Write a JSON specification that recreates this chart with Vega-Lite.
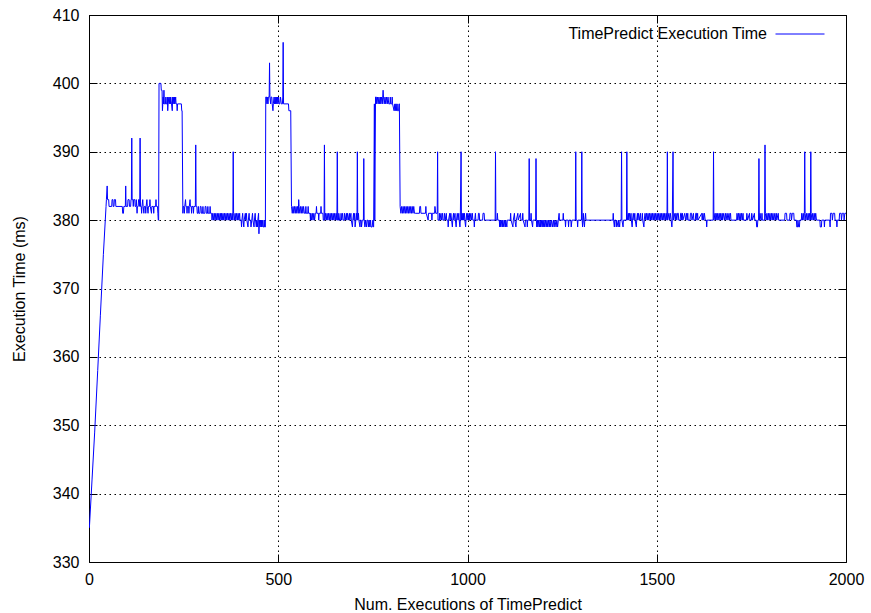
{
  "$schema": "https://vega.github.io/schema/vega-lite/v6.json",
  "width": 757,
  "height": 547,
  "autosize": {"type": "none"},
  "padding": {"left": 89, "top": 15, "right": 25, "bottom": 51},
  "background": "white",
  "config": {
    "font": "Liberation Sans",
    "view": {"stroke": "#000", "strokeWidth": 1},
    "axis": {
      "domain": false,
      "tickColor": "#000",
      "tickSize": -8,
      "labelColor": "#000",
      "labelFontSize": 16,
      "labelFont": "Liberation Sans",
      "titleFont": "Liberation Sans",
      "titleFontSize": 16,
      "titleFontWeight": "normal",
      "titleColor": "#000",
      "gridColor": "#000",
      "gridDash": [1.5, 3.5],
      "gridOpacity": 1,
      "gridWidth": 1,
      "labelFlush": false
    }
  },
  "data": {"values": [
{"x":1,"y":335},{"x":8,"y":342},{"x":15,"y":349},{"x":23,"y":358},{"x":30,"y":366},{"x":38,"y":375},{"x":45,"y":382},{"x":46,"y":383},{"x":48,"y":385},{"x":49,"y":383},{"x":52,"y":383},{"x":53,"y":382},{"x":60,"y":382},{"x":61,"y":383},{"x":63,"y":383},{"x":64,"y":382},{"x":66,"y":382},{"x":67,"y":383},{"x":70,"y":383},{"x":71,"y":382},
{"x":88,"y":382},{"x":89,"y":381},{"x":91,"y":381},{"x":92,"y":382},{"x":96,"y":382},{"x":97,"y":385},{"x":98,"y":382},{"x":102,"y":382},{"x":103,"y":383},{"x":106,"y":383},{"x":107,"y":382},{"x":110,"y":382},{"x":111,"y":383},{"x":112,"y":383},{"x":113,"y":392},{"x":114,"y":383},{"x":116,"y":383},{"x":117,"y":382},{"x":118,"y":383},{"x":121,"y":383},{"x":122,"y":382},{"x":124,"y":382},{"x":125,"y":383},{"x":126,"y":382},{"x":127,"y":381},{"x":128,"y":382},{"x":130,"y":382},{"x":131,"y":383},{"x":133,"y":383},{"x":134,"y":382},{"x":135,"y":392},{"x":136,"y":382},{"x":138,"y":382},{"x":139,"y":381},{"x":140,"y":382},{"x":142,"y":383},{"x":143,"y":382},{"x":145,"y":381},{"x":146,"y":382},{"x":149,"y":382},{"x":150,"y":381},{"x":151,"y":382},{"x":153,"y":383},{"x":154,"y":382},{"x":156,"y":381},{"x":157,"y":382},{"x":160,"y":382},{"x":161,"y":383},{"x":162,"y":382},{"x":165,"y":381},{"x":166,"y":382},{"x":170,"y":382},{"x":171,"y":381},{"x":172,"y":382},{"x":176,"y":382},{"x":177,"y":383},{"x":178,"y":382},{"x":181,"y":382},{"x":182,"y":381},{"x":183,"y":380},{"x":184,"y":380},{"x":185,"y":400},
{"x":190,"y":400},{"x":191,"y":399},{"x":193,"y":399},{"x":194,"y":396},{"x":195,"y":397},{"x":196,"y":398},{"x":197,"y":397},{"x":198,"y":399},{"x":199,"y":397},{"x":202,"y":397},{"x":203,"y":398},{"x":204,"y":397},{"x":206,"y":397},{"x":207,"y":398},{"x":208,"y":396},{"x":209,"y":397},{"x":211,"y":398},{"x":212,"y":397},{"x":214,"y":398},{"x":215,"y":397},{"x":216,"y":398},{"x":218,"y":397},{"x":220,"y":396},{"x":221,"y":398},{"x":222,"y":397},{"x":224,"y":398},{"x":225,"y":397},{"x":226,"y":398},{"x":227,"y":397},{"x":229,"y":398},{"x":230,"y":397},{"x":232,"y":397},{"x":233,"y":396},{"x":234,"y":397},{"x":244,"y":397},{"x":245,"y":396},{"x":246,"y":396},{"x":248,"y":381},{"x":249,"y":382},
{"x":251,"y":382},{"x":252,"y":381},{"x":253,"y":382},{"x":255,"y":383},{"x":256,"y":382},{"x":258,"y":382},{"x":259,"y":381},{"x":260,"y":382},{"x":263,"y":382},{"x":264,"y":381},{"x":265,"y":382},{"x":267,"y":383},{"x":268,"y":382},{"x":270,"y":382},{"x":271,"y":381},{"x":272,"y":382},{"x":275,"y":382},{"x":276,"y":381},{"x":277,"y":382},{"x":281,"y":382},{"x":282,"y":391},{"x":283,"y":382},{"x":285,"y":382},{"x":286,"y":381},{"x":288,"y":381},{"x":289,"y":382},{"x":290,"y":381},
{"x":293,"y":381},{"x":294,"y":382},{"x":296,"y":382},{"x":297,"y":381},{"x":300,"y":381},{"x":301,"y":382},{"x":302,"y":381},{"x":306,"y":381},{"x":307,"y":382},{"x":309,"y":382},{"x":310,"y":381},{"x":313,"y":381},{"x":314,"y":382},{"x":315,"y":381},{"x":319,"y":381},{"x":320,"y":382},{"x":321,"y":381},{"x":324,"y":381},{"x":325,"y":380},
{"x":327,"y":381},{"x":329,"y":380},{"x":331,"y":381},{"x":333,"y":380},{"x":335,"y":381},{"x":337,"y":380},{"x":339,"y":381},{"x":341,"y":380},{"x":343,"y":381},{"x":345,"y":380},{"x":347,"y":381},{"x":349,"y":380},{"x":350,"y":381},{"x":352,"y":380},{"x":354,"y":381},{"x":356,"y":380},{"x":358,"y":381},{"x":360,"y":380},{"x":362,"y":381},{"x":364,"y":380},{"x":366,"y":381},{"x":368,"y":380},{"x":370,"y":381},{"x":372,"y":380},{"x":374,"y":381},{"x":376,"y":380},{"x":378,"y":381},{"x":380,"y":380},{"x":381,"y":390},{"x":382,"y":381},{"x":384,"y":380},{"x":386,"y":381},{"x":388,"y":380},{"x":390,"y":381},{"x":392,"y":380},{"x":394,"y":381},{"x":396,"y":380},
{"x":398,"y":381},{"x":399,"y":380},{"x":402,"y":380},{"x":403,"y":379},{"x":404,"y":380},{"x":406,"y":381},{"x":407,"y":380},{"x":409,"y":379},{"x":410,"y":380},{"x":413,"y":381},{"x":414,"y":380},{"x":416,"y":381},{"x":417,"y":380},{"x":420,"y":379},{"x":421,"y":380},{"x":423,"y":381},{"x":424,"y":380},{"x":427,"y":380},{"x":428,"y":379},{"x":430,"y":380},{"x":432,"y":381},{"x":433,"y":380},{"x":436,"y":379},{"x":437,"y":380},{"x":439,"y":381},{"x":440,"y":380},{"x":442,"y":379},{"x":443,"y":380},{"x":445,"y":379},{"x":446,"y":380},{"x":448,"y":381},{"x":449,"y":378},{"x":450,"y":380},{"x":452,"y":379},{"x":453,"y":380},{"x":455,"y":379},{"x":456,"y":380},{"x":457,"y":379},{"x":459,"y":380},{"x":460,"y":379},{"x":462,"y":379},{"x":463,"y":380},{"x":464,"y":379},{"x":466,"y":379},
{"x":467,"y":398},{"x":469,"y":398},{"x":470,"y":397},{"x":471,"y":398},{"x":473,"y":397},{"x":474,"y":398},{"x":476,"y":398},{"x":477,"y":403},{"x":478,"y":398},{"x":480,"y":397},{"x":481,"y":398},{"x":483,"y":398},{"x":484,"y":397},{"x":486,"y":396},{"x":487,"y":397},{"x":489,"y":398},{"x":490,"y":397},{"x":492,"y":398},{"x":493,"y":397},{"x":495,"y":398},{"x":496,"y":397},{"x":498,"y":398},{"x":499,"y":397},{"x":501,"y":398},{"x":502,"y":397},{"x":504,"y":397},{"x":506,"y":398},{"x":508,"y":397},{"x":511,"y":397},{"x":512,"y":398},{"x":513,"y":406},{"x":514,"y":397},{"x":527,"y":397},{"x":528,"y":396},{"x":533,"y":396},{"x":535,"y":382},
{"x":537,"y":381},{"x":539,"y":382},{"x":541,"y":381},{"x":543,"y":382},{"x":545,"y":381},{"x":547,"y":382},{"x":549,"y":381},{"x":551,"y":382},{"x":553,"y":381},{"x":554,"y":383},{"x":555,"y":382},{"x":557,"y":381},{"x":559,"y":382},{"x":561,"y":381},{"x":563,"y":382},{"x":565,"y":381},{"x":567,"y":382},{"x":569,"y":381},{"x":572,"y":381},{"x":573,"y":382},{"x":574,"y":381},{"x":578,"y":381},{"x":579,"y":382},{"x":580,"y":381},{"x":584,"y":381},{"x":585,"y":380},{"x":586,"y":381},{"x":588,"y":380},{"x":590,"y":381},{"x":592,"y":380},{"x":594,"y":381},{"x":596,"y":380},{"x":598,"y":381},{"x":600,"y":381},{"x":601,"y":382},{"x":602,"y":381},{"x":606,"y":381},{"x":607,"y":380},{"x":608,"y":381},{"x":612,"y":381},{"x":613,"y":382},{"x":614,"y":381},{"x":618,"y":381},{"x":619,"y":380},{"x":621,"y":380},{"x":622,"y":391},{"x":623,"y":380},
{"x":625,"y":381},{"x":627,"y":380},{"x":629,"y":381},{"x":631,"y":380},{"x":633,"y":381},{"x":635,"y":380},{"x":637,"y":381},{"x":639,"y":380},{"x":641,"y":381},{"x":643,"y":380},{"x":645,"y":381},{"x":647,"y":380},{"x":649,"y":381},{"x":651,"y":380},{"x":653,"y":381},{"x":655,"y":380},{"x":656,"y":390},{"x":657,"y":380},{"x":659,"y":380},{"x":660,"y":381},{"x":662,"y":380},{"x":665,"y":380},{"x":666,"y":381},{"x":667,"y":380},{"x":670,"y":381},{"x":671,"y":380},{"x":674,"y":380},{"x":675,"y":381},{"x":677,"y":380},{"x":680,"y":381},{"x":681,"y":380},{"x":683,"y":381},{"x":685,"y":380},{"x":688,"y":381},{"x":689,"y":380},{"x":692,"y":381},{"x":693,"y":380},{"x":696,"y":379},{"x":697,"y":380},{"x":699,"y":381},{"x":700,"y":380},{"x":702,"y":381},{"x":703,"y":379},{"x":705,"y":380},{"x":707,"y":381},{"x":708,"y":380},{"x":709,"y":390},{"x":710,"y":380},
{"x":712,"y":381},{"x":713,"y":380},{"x":716,"y":379},{"x":717,"y":380},{"x":719,"y":380},{"x":720,"y":379},{"x":722,"y":380},{"x":725,"y":380},{"x":726,"y":389},{"x":727,"y":380},{"x":729,"y":379},{"x":731,"y":380},{"x":733,"y":379},{"x":735,"y":380},{"x":737,"y":380},{"x":738,"y":379},{"x":740,"y":380},{"x":742,"y":379},{"x":744,"y":380},{"x":745,"y":379},{"x":748,"y":379},{"x":750,"y":380},{"x":751,"y":379},{"x":752,"y":379},{"x":754,"y":397},{"x":755,"y":380},{"x":757,"y":398},
{"x":759,"y":398},{"x":760,"y":397},{"x":762,"y":398},{"x":764,"y":397},{"x":766,"y":398},{"x":768,"y":397},{"x":770,"y":398},{"x":771,"y":397},{"x":773,"y":398},{"x":775,"y":397},{"x":776,"y":398},{"x":777,"y":399},{"x":778,"y":398},{"x":780,"y":397},{"x":782,"y":398},{"x":784,"y":397},{"x":786,"y":398},{"x":788,"y":397},{"x":790,"y":398},{"x":792,"y":397},{"x":795,"y":397},{"x":796,"y":398},{"x":797,"y":397},{"x":800,"y":397},{"x":801,"y":398},{"x":802,"y":397},{"x":806,"y":396},{"x":808,"y":397},{"x":809,"y":396},{"x":811,"y":397},{"x":812,"y":396},{"x":814,"y":397},{"x":815,"y":396},{"x":818,"y":396},{"x":819,"y":397},{"x":820,"y":397},{"x":822,"y":382},
{"x":824,"y":381},{"x":826,"y":382},{"x":828,"y":381},{"x":830,"y":382},{"x":832,"y":381},{"x":834,"y":382},{"x":836,"y":381},{"x":838,"y":382},{"x":840,"y":381},{"x":842,"y":382},{"x":844,"y":381},{"x":846,"y":382},{"x":848,"y":381},{"x":850,"y":382},{"x":852,"y":381},{"x":854,"y":382},{"x":856,"y":381},{"x":858,"y":382},{"x":860,"y":381},
{"x":862,"y":381},{"x":873,"y":381},{"x":874,"y":382},{"x":876,"y":382},{"x":877,"y":381},{"x":889,"y":381},{"x":890,"y":382},{"x":891,"y":381},{"x":896,"y":380},{"x":897,"y":381},{"x":905,"y":381},{"x":906,"y":380},{"x":907,"y":381},{"x":913,"y":381},{"x":914,"y":382},{"x":916,"y":381},{"x":920,"y":381},{"x":921,"y":390},{"x":922,"y":380},{"x":925,"y":380},{"x":926,"y":381},{"x":927,"y":380},{"x":930,"y":381},{"x":931,"y":380},{"x":934,"y":381},{"x":935,"y":380},{"x":938,"y":380},{"x":939,"y":381},{"x":941,"y":380},{"x":944,"y":381},{"x":945,"y":380},{"x":948,"y":380},{"x":949,"y":379},{"x":950,"y":380},{"x":953,"y":381},{"x":954,"y":380},
{"x":956,"y":381},{"x":958,"y":380},{"x":960,"y":379},{"x":961,"y":380},{"x":963,"y":381},{"x":964,"y":380},{"x":967,"y":381},{"x":968,"y":380},{"x":970,"y":379},{"x":971,"y":380},{"x":973,"y":381},{"x":975,"y":380},{"x":977,"y":381},{"x":978,"y":380},{"x":980,"y":379},{"x":981,"y":380},{"x":983,"y":390},{"x":984,"y":380},{"x":986,"y":381},{"x":987,"y":380},{"x":989,"y":381},{"x":990,"y":380},{"x":992,"y":381},{"x":993,"y":380},{"x":995,"y":379},{"x":996,"y":380},{"x":998,"y":381},{"x":999,"y":380},{"x":1001,"y":381},{"x":1003,"y":380},{"x":1005,"y":381},{"x":1006,"y":380},{"x":1009,"y":381},{"x":1010,"y":380},{"x":1013,"y":381},{"x":1014,"y":380},{"x":1017,"y":380},{"x":1018,"y":379},{"x":1019,"y":380},{"x":1021,"y":381},{"x":1022,"y":380},{"x":1028,"y":380},{"x":1029,"y":381},{"x":1031,"y":381},{"x":1032,"y":380},{"x":1040,"y":380},{"x":1041,"y":381},{"x":1044,"y":381},{"x":1045,"y":380},
{"x":1073,"y":380},{"x":1074,"y":390},{"x":1075,"y":380},{"x":1078,"y":380},{"x":1079,"y":381},{"x":1080,"y":380},{"x":1084,"y":380},{"x":1085,"y":379},{"x":1086,"y":380},{"x":1088,"y":379},{"x":1089,"y":380},{"x":1092,"y":379},{"x":1093,"y":380},{"x":1096,"y":379},{"x":1097,"y":380},{"x":1100,"y":379},{"x":1101,"y":380},{"x":1104,"y":379},{"x":1105,"y":380},{"x":1113,"y":380},{"x":1114,"y":381},{"x":1115,"y":380},{"x":1120,"y":379},{"x":1121,"y":380},{"x":1124,"y":381},{"x":1125,"y":380},{"x":1128,"y":379},{"x":1129,"y":380},{"x":1133,"y":381},{"x":1134,"y":380},{"x":1140,"y":381},{"x":1141,"y":380},{"x":1145,"y":380},{"x":1146,"y":381},{"x":1147,"y":380},{"x":1152,"y":379},{"x":1153,"y":380},{"x":1157,"y":380},{"x":1158,"y":379},{"x":1159,"y":380},{"x":1162,"y":380},{"x":1163,"y":389},{"x":1164,"y":380},
{"x":1167,"y":380},{"x":1168,"y":381},{"x":1169,"y":380},{"x":1172,"y":379},{"x":1173,"y":380},{"x":1176,"y":380},{"x":1180,"y":380},{"x":1181,"y":389},{"x":1182,"y":380},{"x":1183,"y":379},{"x":1185,"y":380},{"x":1186,"y":379},{"x":1188,"y":380},{"x":1190,"y":379},{"x":1192,"y":380},{"x":1193,"y":379},{"x":1195,"y":380},{"x":1197,"y":379},{"x":1199,"y":380},{"x":1200,"y":379},{"x":1202,"y":380},{"x":1204,"y":379},{"x":1206,"y":380},{"x":1208,"y":379},{"x":1210,"y":380},{"x":1212,"y":379},{"x":1214,"y":380},{"x":1216,"y":379},{"x":1218,"y":380},{"x":1220,"y":379},{"x":1222,"y":380},{"x":1225,"y":379},{"x":1227,"y":380},{"x":1229,"y":379},{"x":1231,"y":380},{"x":1234,"y":379},{"x":1236,"y":380},{"x":1238,"y":379},{"x":1240,"y":380},
{"x":1242,"y":381},{"x":1243,"y":380},{"x":1252,"y":380},{"x":1253,"y":381},{"x":1254,"y":380},{"x":1258,"y":380},{"x":1259,"y":379},{"x":1260,"y":380},{"x":1266,"y":380},{"x":1267,"y":379},{"x":1268,"y":380},{"x":1273,"y":380},{"x":1274,"y":379},{"x":1276,"y":380},{"x":1285,"y":380},{"x":1286,"y":390},{"x":1287,"y":380},{"x":1290,"y":380},{"x":1291,"y":379},{"x":1292,"y":380},{"x":1301,"y":380},{"x":1302,"y":390},{"x":1303,"y":380},{"x":1304,"y":379},{"x":1305,"y":380},{"x":1306,"y":381},{"x":1307,"y":380},{"x":1309,"y":379},{"x":1310,"y":380},{"x":1312,"y":381},{"x":1313,"y":380},
{"x":1384,"y":380},{"x":1385,"y":381},{"x":1386,"y":380},{"x":1388,"y":379},{"x":1389,"y":380},{"x":1392,"y":380},{"x":1393,"y":379},{"x":1394,"y":380},{"x":1398,"y":379},{"x":1399,"y":380},{"x":1402,"y":379},{"x":1403,"y":380},{"x":1406,"y":380},{"x":1407,"y":390},{"x":1408,"y":380},{"x":1411,"y":379},{"x":1412,"y":380},{"x":1420,"y":380},{"x":1421,"y":390},{"x":1422,"y":380},
{"x":1425,"y":381},{"x":1426,"y":380},{"x":1428,"y":381},{"x":1430,"y":380},{"x":1432,"y":381},{"x":1433,"y":380},{"x":1435,"y":379},{"x":1436,"y":380},{"x":1438,"y":381},{"x":1440,"y":380},{"x":1442,"y":381},{"x":1443,"y":380},{"x":1446,"y":379},{"x":1447,"y":380},{"x":1449,"y":381},{"x":1450,"y":380},{"x":1452,"y":381},{"x":1454,"y":380},{"x":1457,"y":381},{"x":1458,"y":380},{"x":1461,"y":380},{"x":1462,"y":381},{"x":1463,"y":380},{"x":1466,"y":379},{"x":1467,"y":380},{"x":1469,"y":381},{"x":1471,"y":380},{"x":1473,"y":381},{"x":1475,"y":380},{"x":1477,"y":381},{"x":1479,"y":380},{"x":1481,"y":381},{"x":1483,"y":380},{"x":1485,"y":381},{"x":1487,"y":380},{"x":1489,"y":381},{"x":1491,"y":380},{"x":1493,"y":381},{"x":1495,"y":380},{"x":1497,"y":381},{"x":1499,"y":380},{"x":1501,"y":381},{"x":1503,"y":380},{"x":1505,"y":381},{"x":1507,"y":380},{"x":1509,"y":381},{"x":1511,"y":380},{"x":1513,"y":381},{"x":1515,"y":380},{"x":1517,"y":381},{"x":1519,"y":380},{"x":1521,"y":381},{"x":1523,"y":380},{"x":1525,"y":381},{"x":1527,"y":380},{"x":1528,"y":390},{"x":1529,"y":380},
{"x":1532,"y":381},{"x":1534,"y":380},{"x":1536,"y":381},{"x":1538,"y":380},{"x":1540,"y":379},{"x":1541,"y":380},{"x":1543,"y":390},{"x":1544,"y":380},{"x":1548,"y":381},{"x":1549,"y":380},{"x":1551,"y":381},{"x":1553,"y":380},{"x":1555,"y":381},{"x":1557,"y":381},{"x":1558,"y":380},{"x":1562,"y":380},{"x":1563,"y":381},{"x":1565,"y":381},{"x":1566,"y":380},{"x":1568,"y":381},{"x":1569,"y":380},{"x":1574,"y":381},{"x":1576,"y":380},{"x":1579,"y":381},{"x":1580,"y":380},{"x":1582,"y":381},{"x":1583,"y":380},{"x":1588,"y":380},{"x":1589,"y":381},{"x":1592,"y":381},{"x":1593,"y":380},{"x":1597,"y":381},{"x":1598,"y":380},{"x":1602,"y":380},{"x":1603,"y":381},{"x":1605,"y":381},{"x":1606,"y":380},{"x":1608,"y":381},{"x":1609,"y":380},{"x":1619,"y":381},{"x":1620,"y":380},{"x":1622,"y":381},{"x":1624,"y":380},{"x":1626,"y":381},{"x":1628,"y":380},{"x":1631,"y":380},{"x":1632,"y":379},{"x":1633,"y":380},{"x":1649,"y":380},{"x":1650,"y":390},{"x":1651,"y":380},
{"x":1654,"y":381},{"x":1655,"y":380},{"x":1657,"y":381},{"x":1659,"y":380},{"x":1661,"y":381},{"x":1662,"y":380},{"x":1665,"y":381},{"x":1667,"y":380},{"x":1669,"y":381},{"x":1671,"y":380},{"x":1673,"y":381},{"x":1674,"y":380},{"x":1677,"y":381},{"x":1679,"y":380},{"x":1682,"y":381},{"x":1683,"y":380},{"x":1686,"y":381},{"x":1688,"y":380},{"x":1691,"y":381},{"x":1692,"y":380},{"x":1695,"y":381},{"x":1696,"y":380},{"x":1711,"y":380},{"x":1712,"y":381},{"x":1714,"y":380},{"x":1716,"y":381},{"x":1718,"y":380},{"x":1720,"y":381},{"x":1722,"y":380},{"x":1724,"y":381},{"x":1726,"y":380},{"x":1728,"y":381},{"x":1729,"y":380},{"x":1737,"y":380},{"x":1738,"y":381},{"x":1740,"y":380},{"x":1745,"y":381},{"x":1746,"y":380},{"x":1750,"y":380},{"x":1751,"y":381},{"x":1753,"y":380},{"x":1758,"y":381},{"x":1759,"y":380},{"x":1763,"y":380},{"x":1764,"y":379},{"x":1766,"y":379},{"x":1767,"y":380},{"x":1769,"y":380},{"x":1770,"y":389},{"x":1771,"y":380},
{"x":1773,"y":381},{"x":1775,"y":380},{"x":1777,"y":380},{"x":1778,"y":381},{"x":1779,"y":380},{"x":1785,"y":380},{"x":1786,"y":391},{"x":1787,"y":381},{"x":1789,"y":380},{"x":1791,"y":381},{"x":1793,"y":380},{"x":1795,"y":381},{"x":1797,"y":380},{"x":1799,"y":381},{"x":1801,"y":380},{"x":1803,"y":381},{"x":1805,"y":380},{"x":1807,"y":381},{"x":1809,"y":380},{"x":1812,"y":381},{"x":1813,"y":380},{"x":1816,"y":381},{"x":1817,"y":380},{"x":1821,"y":381},{"x":1822,"y":380},{"x":1838,"y":380},{"x":1839,"y":381},{"x":1843,"y":381},{"x":1844,"y":380},{"x":1851,"y":380},{"x":1852,"y":381},{"x":1855,"y":381},{"x":1856,"y":380},{"x":1858,"y":381},{"x":1862,"y":381},{"x":1863,"y":380},{"x":1869,"y":380},{"x":1870,"y":379},{"x":1872,"y":379},{"x":1873,"y":380},{"x":1875,"y":379},{"x":1877,"y":379},{"x":1878,"y":380},{"x":1882,"y":380},{"x":1883,"y":381},{"x":1885,"y":380},{"x":1887,"y":381},{"x":1889,"y":380},{"x":1890,"y":381},{"x":1891,"y":390},{"x":1892,"y":381},
{"x":1894,"y":380},{"x":1896,"y":381},{"x":1898,"y":380},{"x":1900,"y":381},{"x":1902,"y":380},{"x":1904,"y":381},{"x":1906,"y":380},{"x":1907,"y":390},{"x":1908,"y":381},{"x":1910,"y":380},{"x":1912,"y":381},{"x":1914,"y":380},{"x":1916,"y":381},{"x":1918,"y":380},{"x":1920,"y":381},{"x":1922,"y":380},{"x":1931,"y":380},{"x":1932,"y":379},{"x":1935,"y":379},{"x":1936,"y":380},{"x":1942,"y":380},{"x":1943,"y":379},{"x":1944,"y":380},{"x":1957,"y":380},{"x":1958,"y":379},{"x":1959,"y":381},{"x":1963,"y":381},{"x":1964,"y":380},{"x":1966,"y":381},{"x":1970,"y":381},{"x":1971,"y":380},{"x":1975,"y":380},{"x":1976,"y":379},{"x":1977,"y":380},{"x":1982,"y":380},{"x":1983,"y":381},{"x":1987,"y":381},{"x":1988,"y":380},{"x":1990,"y":381},{"x":1994,"y":381},{"x":1995,"y":380},{"x":1997,"y":381},{"x":2000,"y":381}
  ]},
  "layer": [
    {
      "mark": {"type": "line", "strokeWidth": 1, "clip": true},
      "encoding": {
        "x": {
          "field": "x", "type": "quantitative",
          "scale": {"domain": [0, 2000], "nice": false},
          "axis": {"title": "Num. Executions of TimePredict", "values": [0, 500, 1000, 1500, 2000], "format": "d", "grid": true, "labelPadding": 17, "titlePadding": 9}
        },
        "y": {
          "field": "y", "type": "quantitative",
          "scale": {"domain": [330, 410], "nice": false, "zero": false},
          "axis": {"title": "Execution Time (ms)", "values": [330, 340, 350, 360, 370, 380, 390, 400, 410], "format": "d", "grid": true, "labelPadding": 18, "titlePadding": 25}
        },
        "color": {
          "datum": "TimePredict Execution Time", "type": "nominal",
          "scale": {"range": ["#0000ff"]},
          "legend": {
            "title": null, "orient": "none", "legendX": 686, "legendY": -6,
            "symbolType": "stroke", "symbolSize": 2401, "symbolStrokeWidth": 1,
            "labelAlign": "right", "labelOffset": -58, "labelFontSize": 16,
            "labelFont": "Liberation Sans", "labelColor": "#000", "padding": 0, "labelLimit": 400
          }
        }
      }
    },
    {
      "mark": {"type": "point", "opacity": 0},
      "encoding": {
        "x": {
          "field": "x", "type": "quantitative",
          "scale": {"domain": [0, 2000], "nice": false},
          "axis": {"orient": "top", "title": null, "labels": false, "grid": false, "values": [0, 500, 1000, 1500, 2000]}
        },
        "y": {
          "field": "y", "type": "quantitative",
          "scale": {"domain": [330, 410], "nice": false, "zero": false},
          "axis": {"orient": "right", "title": null, "labels": false, "grid": false, "values": [330, 340, 350, 360, 370, 380, 390, 400, 410]}
        }
      }
    }
  ],
  "resolve": {"axis": {"x": "independent", "y": "independent"}}
}
